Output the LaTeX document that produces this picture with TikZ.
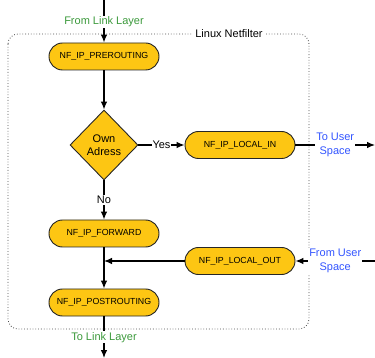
\documentclass[tikz,border=0pt]{standalone}
\usepackage{fontspec}
\setmainfont{Liberation Sans}
\usetikzlibrary{shapes.geometric,arrows.meta}
\definecolor{hookfill}{HTML}{FDC613}
\definecolor{linkgreen}{HTML}{3C9A3C}
\definecolor{userblue}{HTML}{3355FF}
\begin{document}
\begin{tikzpicture}[x=1pt,y=-1pt,
  hook/.style={draw=black!85, line width=0.9pt, fill=hookfill,
    rounded corners=13.5pt, minimum width=110pt, minimum height=27pt,
    inner sep=0pt, font=\fontsize{8.8}{10}\selectfont},
  decision/.style={diamond, draw=black!85, line width=0.9pt, fill=hookfill,
    minimum width=68pt, minimum height=70pt, inner sep=0pt, align=center,
    font=\fontsize{11}{13}\selectfont},
  flow/.style={line width=1.1pt, -{Latex[length=8pt,width=6.5pt]}},
  tag/.style={fill=white, inner sep=1pt, align=center,
    font=\fontsize{11}{13.5}\selectfont},
  frame/.style={draw=black!70, line width=0.8pt,
    dash pattern=on 0.8pt off 2pt, rounded corners=10pt}]
\useasboundingbox (0,0) rectangle (375,358);

% Netfilter boundary
\draw[frame] (8,34) rectangle (309,329);
\node[tag, fill=white, inner sep=3pt] (nf) at (229,34) {Linux Netfilter};

% hooks
\node[hook] (pre) at (104,56.5) {NF\_IP\_PREROUTING};
\node[decision] (own) at (104,145) {Own\\Adress};
\node[hook] (lin) at (240,145) {NF\_IP\_LOCAL\_IN};
\node[hook] (fwd) at (104,233.5) {NF\_IP\_FORWARD};
\node[hook] (lout) at (240,261) {NF\_IP\_LOCAL\_OUT};
\node[hook] (post) at (104,302.5) {NF\_IP\_POSTROUTING};

% loose ends
\coordinate (top) at (104,0);
\coordinate (bottom) at (104,358);
\coordinate (userout) at (375,145);
\coordinate (userin) at (375,261);
\coordinate (join) at (104,261);

% packet flow
\draw[flow] (top) -- node[tag, text=linkgreen, pos=0.51] {From Link Layer} (pre);
\draw[flow] (pre) -- (own);
\draw[flow] (own) -- node[tag] {Yes} (lin);
\draw[flow] (lin) -- node[tag, text=userblue] {To User\\Space} (userout);
\draw[flow] (own) -- node[tag] {No} (fwd);
\draw[flow] (fwd) -- (post);
\draw[flow] (lout) -- (join);
\draw[flow] (userin) -- node[tag, text=userblue] {From User\\Space} (lout);
\draw[flow] (post) -- node[tag, text=linkgreen] {To Link Layer} (bottom);
\end{tikzpicture}
\end{document}
